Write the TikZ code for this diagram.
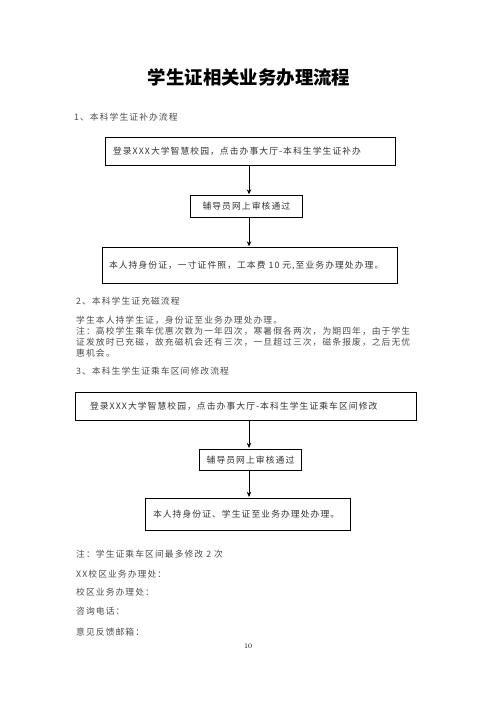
\documentclass[tikz,border=0pt]{standalone}
\usepackage{fontspec}
\newfontfamily\cjk[LetterSpace=12]{Noto Sans CJK SC}
\newfontfamily\cjktitle{Noto Sans CJK SC}
\usetikzlibrary{arrows.meta}

\begin{document}
\begin{tikzpicture}[x=1pt, y=-1pt,
  flowbox/.style = {draw, line width=0.8pt, inner ysep=0pt,
    font=\cjk\fontsize{8.8}{10}\selectfont, text=black!80},
  flowarrow/.style = {-{Stealth[length=5pt,width=4.5pt]}, line width=0.8pt,
    shorten >=1pt},
  bodyline/.style = {anchor=west, inner sep=0pt,
    font=\cjk\fontsize{8.8}{10}\selectfont, text=black!70}]
  \useasboundingbox (0,0) rectangle (496,702);

  \node[font=\cjktitle\bfseries\fontsize{18.4}{20}\selectfont] (title) at (249,77)
    {学生证相关业务办理流程};

  % 1. replacement
  \node[bodyline] (s1) at (74,117) {1、本科学生证补办流程};
  \node[flowbox, align=left, text width=274.7pt, inner xsep=7.3pt,
    minimum height=28pt] (b1) at (250.35,151)
    {登录XXX大学智慧校园，点击办事大厅-本科生学生证补办};
  \node[flowbox, align=center, minimum width=112.7pt,
    minimum height=21.3pt] (b2) at (246.35,206.35) {辅导员网上审核通过};
  \node[flowbox, align=left, text width=282pt, inner xsep=6.7pt,
    minimum height=35.3pt] (b3) at (250,265.35)
    {本人持身份证，一寸证件照，工本费 10 元,至业务办理处办理。};

  % 2. magnetizing
  \node[bodyline] (s2) at (76,301) {2、本科学生证充磁流程};
  \node[bodyline] (t1) at (76,320) {学生本人持学生证，身份证至业务办理处办理。};
  \node[bodyline] (t2) at (76,331)
    {注：高校学生乘车优惠次数为一年四次，寒暑假各两次，为期四年，由于学生};
  \node[bodyline] (t3) at (76,342.5)
    {证发放时已充磁，故充磁机会还有三次，一旦超过三次，磁条报废，之后无优};
  \node[bodyline] (t4) at (76,353.5) {惠机会。};

  % 3. ride interval
  \node[bodyline] (s3) at (76,371) {3、本科生学生证乘车区间修改流程};
  \node[flowbox, align=left, text width=311.7pt, inner xsep=14.3pt,
    minimum height=27.7pt] (b4) at (245.85,406.15)
    {登录XXX大学智慧校园，点击办事大厅-本科生学生证乘车区间修改};
  \node[flowbox, align=center, minimum width=102.4pt,
    minimum height=20.7pt] (b5) at (250.5,459.65) {辅导员网上审核通过};
  \node[flowbox, align=left, text width=189.7pt, inner xsep=7.3pt,
    minimum height=32.4pt] (b6) at (247.85,514.5)
    {本人持身份证、学生证至业务办理处办理。};

  \coordinate (ax) at (249,0);
  \draw[flowarrow] (b1.south -| ax) -- (b2.north -| ax);
  \draw[flowarrow] (b2.south -| ax) -- (b3.north -| ax);
  \draw[flowarrow] (b4.south -| ax) -- (b5.north -| ax);
  \draw[flowarrow] (b5.south -| ax) -- (b6.north -| ax);

  % contacts
  \node[bodyline] (n1) at (76,554) {注：学生证乘车区间最多修改 2 次};
  \node[bodyline] (n2) at (76,574) {XX校区业务办理处：};
  \node[bodyline] (n3) at (76,592) {校区业务办理处：};
  \node[bodyline] (n4) at (76,611) {咨询电话：};
  \node[bodyline] (n5) at (76,632) {意见反馈邮箱：};
  \node[font=\fontsize{7}{8}\selectfont] (pageno) at (248,646) {10};
\end{tikzpicture}
\end{document}
